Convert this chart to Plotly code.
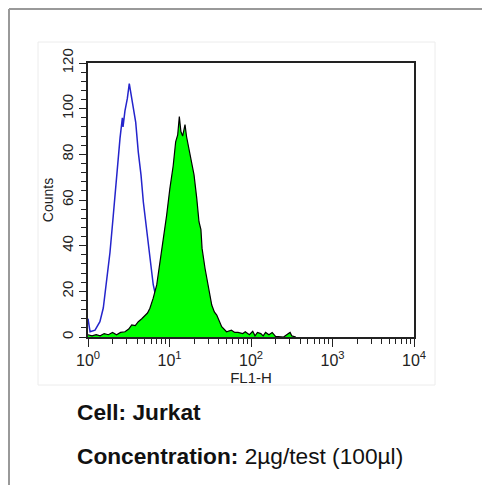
import plotly.graph_objects as go

# Isotype control (blue outline)
ctrl_fl1 = [1.00, 1.06, 1.22, 1.40, 1.54, 1.69, 1.86, 2.04, 2.25, 2.47, 2.64, 2.69, 2.84,
            3.04, 3.21, 3.37, 3.60, 3.85, 4.14, 4.47, 4.78, 5.25, 5.75, 6.31, 6.76, 7.41,
            8.32, 9.33, 11.2, 15.8]
ctrl_counts = [8, 2.3, 3, 6.7, 12.7, 24, 37, 53, 71, 87, 96, 92, 99,
               104.5, 111, 106, 100, 94, 81, 71, 59, 46, 33, 23, 18, 11,
               5, 2, 1, 0]

# Stained sample (green fill)
samp_fl1 = [1.00, 1.12, 1.26, 1.41, 1.58, 1.78, 2.00, 2.24, 2.51, 2.84, 3.16, 3.44, 3.80,
            4.14, 4.57, 5.01, 5.37, 5.75, 6.31, 6.97, 7.64, 8.39, 9.23, 10.1, 11.1, 11.9,
            12.6, 13.2, 13.8, 14.5, 15.5, 16.2, 17.5, 18.7, 20.0, 21.6, 23.0, 24.3, 25.1,
            27.3, 30.0, 33.0, 35.5, 38.0, 43.7, 50.1, 57.5, 63.1, 69.2, 79.4, 85.1, 95.5,
            105, 112, 120, 132, 141, 151, 166, 182, 200, 251, 288, 302, 316, 355]
samp_counts = [1, 0.5, 1, 0.5, 1.5, 1, 2, 1, 2, 2.3, 3.5, 5.3, 5,
               6.7, 8, 9.6, 10.5, 12.6, 17, 22.8, 33, 41.7, 53.4, 65, 75, 85.5,
               88.5, 96.5, 90, 88, 93, 87.7, 81, 76.8, 71, 60.7, 50.5, 47, 38.8,
               30, 21.3, 14, 11, 9.6, 4.5, 2.3, 3, 2, 2, 1.5, 2.3, 1,
               2.5, 0.5, 2, 1.5, 0.5, 2, 1, 2, 0.3, 0, 1.5, 2, 0.5, 0]

x_tickvals = [1, 10, 100, 1000, 10000]
x_ticktext = ["10<sup>0</sup>", "10<sup>1</sup>", "10<sup>2</sup>", "10<sup>3</sup>", "10<sup>4</sup>"]
x_minor = [m * d for d in (1, 10, 100, 1000) for m in range(2, 10)]
y_tickvals = [0, 20, 40, 60, 80, 100, 120]

fig = go.Figure()
fig.add_trace(go.Scatter(x=ctrl_fl1, y=ctrl_counts, mode="lines",
                         line=dict(color="#2424cc", width=1.5), showlegend=False))
fig.add_trace(go.Scatter(x=samp_fl1, y=samp_counts, mode="lines", fill="tozeroy",
                         fillcolor="#00ff00", line=dict(color="#000000", width=1.2),
                         showlegend=False))

font = "Liberation Sans, Arial, sans-serif"
OFF = 8  # page body margin
W, H = 490, 485
L, R, T, B = 88 - OFF, 414 - OFF, 63 - OFF, 337 - OFF
pw, ph = R - L, B - T

def px(x):
    return (x - OFF - L) / pw

def py(y):
    return (B - (y - OFF)) / ph

fig.update_layout(
    width=W, height=H,
    margin=dict(l=L, r=W - R, t=T, b=H - B, pad=0),
    paper_bgcolor="white", plot_bgcolor="white",
    font=dict(family=font, color="#222222"),
    xaxis=dict(type="log", range=[0, 4], tickvals=x_tickvals, ticktext=x_ticktext,
               ticks="outside", ticklen=8, tickwidth=1, tickcolor="#222",
               showline=True, linecolor="#222", linewidth=1.5, mirror=True,
               showgrid=False, zeroline=False,
               tickfont=dict(size=16, family=font, color="#222"),
               minor=dict(tickvals=x_minor, ticks="outside", ticklen=5, tickcolor="#222", showgrid=False),
               title=dict(text="FL1-H", font=dict(size=15, family=font, color="#222"), standoff=0)),
    yaxis=dict(range=[0, 120], tickvals=y_tickvals,
               ticks="outside", ticklen=7, tickwidth=1, tickcolor="#222",
               showline=True, linecolor="#222", linewidth=1.5, mirror=True,
               showgrid=False, zeroline=False, tickangle=-90,
               tickfont=dict(size=15, family=font, color="#222"),
               minor=dict(dtick=4, ticks="outside", ticklen=5, tickcolor="#222", showgrid=False),
               title=dict(text="Counts", font=dict(size=14, family=font, color="#222"), standoff=2)),
    shapes=[
        dict(type="rect", xref="paper", yref="paper", x0=px(38), x1=px(435), y0=py(385), y1=py(42),
             line=dict(color="#ececec", width=1), layer="below"),
        dict(type="line", xref="paper", yref="paper", x0=px(9), x1=px(498), y0=py(9), y1=py(9),
             line=dict(color="#999999", width=2)),
        dict(type="line", xref="paper", yref="paper", x0=px(9), x1=px(9), y0=py(9), y1=py(495),
             line=dict(color="#999999", width=2)),
    ],
    annotations=[
        dict(text="<b>Cell: Jurkat</b>", xref="paper", yref="paper", x=px(75), y=py(412),
             xanchor="left", yanchor="middle", showarrow=False,
             font=dict(size=22.7, family=font, color="#111")),
        dict(text="<b>Concentration:</b> 2µg/test (100µl)", xref="paper", yref="paper",
             x=px(75), y=py(456), xanchor="left", yanchor="middle", showarrow=False,
             font=dict(size=22.7, family=font, color="#111")),
    ],
)

fig.write_html("out.html")
